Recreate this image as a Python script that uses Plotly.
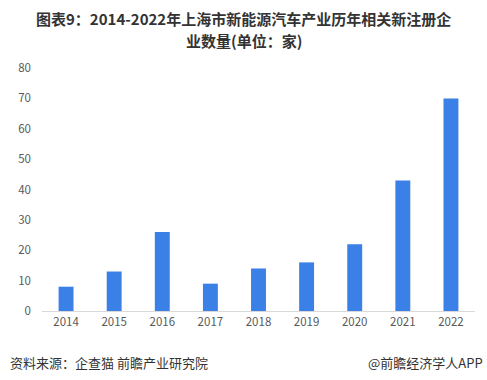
import plotly.graph_objects as go

years = ["2014", "2015", "2016", "2017", "2018", "2019", "2020", "2021", "2022"]
counts = [8, 13, 26, 9, 14, 16, 22, 43, 70]
y_ticks = [0, 10, 20, 30, 40, 50, 60, 70, 80]

title_line1 = "图表9：2014-2022年上海市新能源汽车产业历年相关新注册企"
title_line2 = "业数量(单位：家)"
source_text = "资料来源：企查猫 前瞻产业研究院"
brand_text = "@前瞻经济学人APP"

font_family = "Noto Sans CJK SC, Microsoft YaHei, sans-serif"

PW, PH = 433, 243
XC = (243.5 - 42) / PW

fig = go.Figure()
fig.add_trace(go.Bar(
    x=years, y=counts,
    marker=dict(color="#3A80E6", line=dict(width=0)),
    width=0.31,
))

fig.update_layout(
    width=487, height=380,
    margin=dict(l=42, r=12, t=68, b=69),
    paper_bgcolor="white", plot_bgcolor="white",
    showlegend=False,
    font=dict(family=font_family, color="#595959", size=11),
    xaxis=dict(
        type="category",
        showgrid=False,
        showline=True, linecolor="#d9d9d9", linewidth=1,
        ticks="", tickfont=dict(size=11.5, color="#595959"),
        range=[-0.5, len(years) - 0.5],
    ),
    yaxis=dict(
        range=[0, 80],
        tickvals=y_ticks,
        showgrid=False, zeroline=False, showline=False,
        ticks="", ticklabelstandoff=10,
        tickfont=dict(size=11.5, color="#595959"),
    ),
    annotations=[
        dict(text="<b>" + title_line1 + "</b>", xref="paper", yref="paper",
             x=XC, y=1 + (68 - 18) / PH,
             xanchor="center", yanchor="middle", showarrow=False,
             font=dict(size=15, color="#333333", family=font_family)),
        dict(text="<b>" + title_line2 + "</b>", xref="paper", yref="paper",
             x=XC, y=1 + (68 - 40) / PH,
             xanchor="center", yanchor="middle", showarrow=False,
             font=dict(size=15, color="#333333", family=font_family)),
        dict(text=source_text, xref="paper", yref="paper", x=-34 / PW, y=-51 / PH,
             xanchor="left", yanchor="middle", showarrow=False,
             font=dict(size=13, color="#333333", family=font_family)),
        dict(text=brand_text, xref="paper", yref="paper", x=1 + 10 / PW, y=-51 / PH,
             xanchor="right", yanchor="middle", showarrow=False,
             font=dict(size=13, color="#333333", family=font_family)),
    ],
)

fig.write_html("out.html")
